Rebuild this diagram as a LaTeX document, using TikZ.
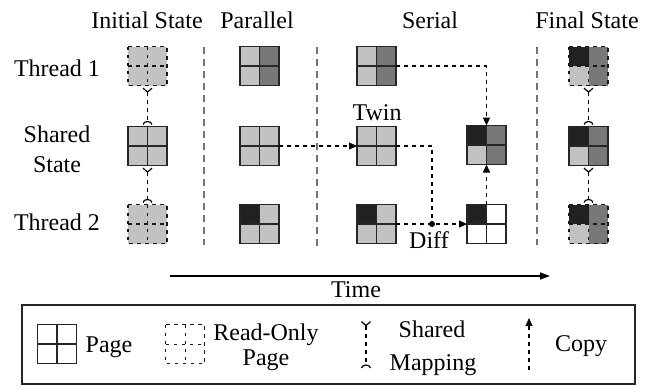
\documentclass[tikz,border=0pt]{standalone}
\usepackage{fontspec}
\setmainfont{Liberation Serif}
\usetikzlibrary{arrows.meta}
\definecolor{lt}{gray}{0.76}
\definecolor{md}{gray}{0.47}
\definecolor{dk}{gray}{0.13}
\newcommand{\pagesq}[7]{%
  \node[pg] (#1) at (#2) {};
  \fill[#3] (#1.north west) rectangle (#1.center);
  \fill[#4] (#1.north) rectangle (#1.east);
  \fill[#5] (#1.west) rectangle (#1.south);
  \fill[#6] (#1.center) rectangle (#1.south east);
  \draw[#7] (#1.north west) rectangle (#1.south east) (#1.north) -- (#1.south) (#1.west) -- (#1.east);
}
\begin{document}
\begin{tikzpicture}[x=0.5pt,y=-0.5pt,font=\fontsize{12}{15}\selectfont,
  pg/.style={minimum size=19.5pt,inner sep=0pt,outer sep=0pt},
  rw/.style={line width=0.8pt,draw=black!85},
  ro/.style={rw,line width=0.9pt,draw=black!90,dash pattern=on 1.8pt off 2.2pt},
  sep/.style={draw=black!55,line width=0.6pt,dash pattern=on 3.5pt off 2.5pt},
  cpl/.style={line width=0.6pt,dash pattern=on 2pt off 2pt},
  cp/.style={cpl,-{Triangle[length=4pt,width=3.5pt]}},
  map/.style={cpl,{Straight Barb[reversed,length=2pt,width=4.5pt]}-{Arc Barb[reversed,length=1.8pt,width=5pt]},shorten <=1pt,shorten >=1pt},
  lbl/.style={anchor=base}]
\useasboundingbox (0,0) rectangle (647,387);
\node[lbl] (hi) at (147,28) {Initial State};
\node[lbl] (hp) at (257,28) {Parallel};
\node[lbl] (hs) at (430,28) {Serial};
\node[lbl] (hf) at (587,28) {Final State};
\node[lbl] (r1) at (57,76) {Thread 1};
\node[lbl] (r2a) at (57,142) {Shared};
\node[lbl] (r2b) at (57,172) {State};
\node[lbl] (r3) at (57,230) {Thread 2};
\draw[sep] (204,47) -- (204,245);
\draw[sep] (317,47) -- (317,248);
\draw[sep] (537,47) -- (537,245);
\pagesq{ia}{147.5,66}{lt}{lt}{lt}{lt}{ro}
\pagesq{ib}{147.5,146}{lt}{lt}{lt}{lt}{rw}
\pagesq{ic}{147.5,224}{lt}{lt}{lt}{lt}{ro}
\pagesq{pa}{259.5,66}{lt}{md}{lt}{md}{rw}
\pagesq{pb}{259.5,146}{lt}{lt}{lt}{lt}{rw}
\pagesq{pc}{259.5,224}{dk}{lt}{lt}{lt}{rw}
\pagesq{sa}{376.5,66}{lt}{md}{lt}{md}{rw}
\pagesq{tw}{376.5,146}{lt}{lt}{lt}{lt}{rw}
\pagesq{sc}{376.5,224}{dk}{lt}{lt}{lt}{rw}
\pagesq{mg}{486.5,145}{dk}{md}{lt}{md}{rw}
\pagesq{df}{486.5,224}{dk}{white}{white}{white}{rw}
\pagesq{fa}{588.5,66}{dk}{md}{lt}{md}{ro}
\pagesq{fb}{588.5,146}{dk}{md}{lt}{md}{rw}
\pagesq{fc}{588.5,224}{dk}{md}{lt}{md}{ro}
\node[lbl] (twl) at (377,120) {Twin};
\node[lbl] (dfl) at (429,248) {Diff};
\node[circle,fill=black,inner sep=0pt,minimum size=3pt] (jn) at (432,224) {};
\draw[cp] (sa.east) -| (mg.north);
\draw[cp] (pb.east) -- (tw.west);
\draw[cpl] (tw.east) -| (jn.center);
\draw[cp] (sc.east) -- (df.west);
\draw[cp] (df.north) -- (mg.south);
\draw[map] (ia.south) -- (ib.north);
\draw[map] (ib.south) -- (ic.north);
\draw[map] (fa.south) -- (fb.north);
\draw[map] (fb.south) -- (fc.north);
\coordinate (t0) at (170,276);
\coordinate (t1) at (550,276);
\draw[line width=0.7pt,-{Triangle[length=5pt,width=3.5pt]}] (t0) -- (t1);
\node[lbl] (tl) at (356,297) {Time};
\draw[line width=0.8pt,draw=black!85] (22,305) rectangle (635,384);
\pagesq{lp}{57,344}{white}{white}{white}{white}{rw}
\node[lbl] (lpt) at (109,352) {Page};
\pagesq{lr}{185,344}{white}{white}{white}{white}{ro,line width=0.5pt}
\node[lbl] (lrt1) at (266,340) {Read-Only};
\node[lbl] (lrt2) at (266,365) {Page};
\coordinate (lm0) at (366,319);
\coordinate (lm1) at (366,370);
\draw[map] (lm0) -- (lm1);
\node[lbl] (lmt1) at (432,337) {Shared};
\node[lbl] (lmt2) at (433,370) {Mapping};
\coordinate (lc0) at (529,370);
\coordinate (lc1) at (529,318);
\draw[cp] (lc0) -- (lc1);
\node[lbl] (lct) at (581,351) {Copy};
\end{tikzpicture}
\end{document}
